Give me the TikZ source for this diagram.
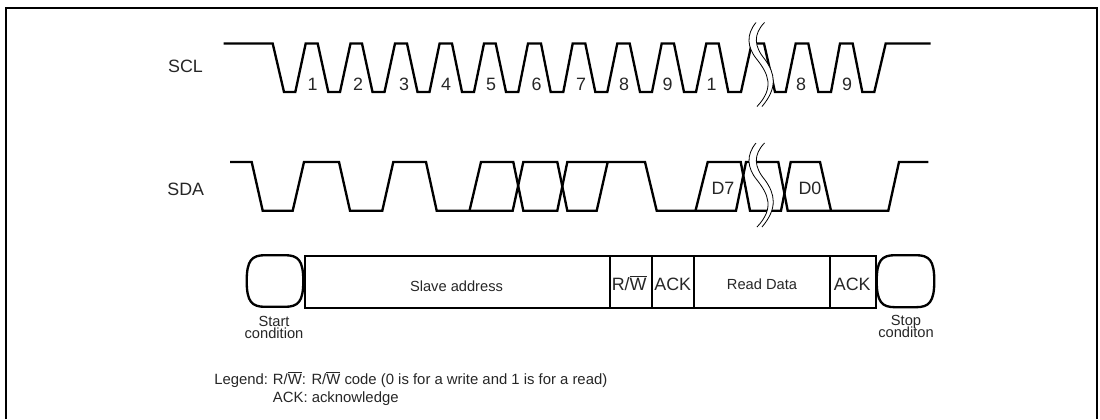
\documentclass[tikz,border=0pt]{standalone}
\usepackage{fontspec}
\setmainfont{Liberation Sans}
\newcommand{\wbar}{$\overline{\mbox{W}}$}
\tikzset{
  wave/.style={line width=1.75pt,line join=miter,black},
  cell/.style={line width=1.75pt,black},
  framed/.style={line width=1.7pt,black},
  brk/.style={line width=0.6pt,black},
  lab/.style={inner sep=0pt,anchor=base,text=black!85,font=\fontsize{13.4pt}{15pt}\selectfont},
  sm/.style={inner sep=0pt,anchor=base,text=black!85,font=\fontsize{11pt}{12pt}\selectfont},
  leg/.style={inner sep=0pt,anchor=base west,text=black!85,font=\fontsize{11.15pt}{12pt}\selectfont},
}
\begin{document}
\begin{tikzpicture}[x=0.75pt,y=-0.75pt]
\useasboundingbox (0,0) rectangle (1100,419);
% frame
\draw[framed] (6.2,419) -- (6.2,7.8) -- (1097,7.8) -- (1097,419);
% SCL
\draw[wave] (223.5,43.5) -- (272.7,43.5) -- (284,92) -- (295.3,92)
 -- (305.7,43.5) -- (317.7,43.5) -- (328.3,92) -- (340,92)
 -- (350.5,43.5) -- (362,43.5) -- (372.5,92) -- (384.5,92)
 -- (395,43.5) -- (407,43.5) -- (417.5,92) -- (429.5,92)
 -- (439.6,43.5) -- (452,43.5) -- (462,92) -- (474,92)
 -- (484,43.5) -- (495.7,43.5) -- (506,92) -- (518.3,92)
 -- (528,43.5) -- (541,43.5) -- (550.7,92) -- (563.3,92)
 -- (572.7,43.5) -- (585.3,43.5) -- (595.3,92) -- (607.3,92)
 -- (617.3,43.5) -- (629.7,43.5) -- (640,92) -- (652,92)
 -- (661.7,43.5) -- (674,43.5) -- (684,92) -- (696,92)
 -- (706.3,43.5) -- (718.7,43.5) -- (728.3,92) -- (741,92)
 -- (751.7,43.5) -- (764,43.5) -- (775,92) -- (785.7,92)
 -- (795.7,43.5) -- (808.3,43.5) -- (818.3,92) -- (831,92)
 -- (840,43.5) -- (852.7,43.5) -- (862.3,92) -- (874.3,92)
 -- (885.7,43.5) -- (930.7,43.5);
% SDA
\draw[wave] (230,162) -- (251.7,162) -- (262.7,210.7) -- (292.7,210.7)
 -- (304,162) -- (339,162) -- (350,210.7) -- (382.3,210.7)
 -- (393.3,162) -- (426,162) -- (436.7,210.7) -- (512.7,210.7)
 -- (523.3,162) -- (557.3,162) -- (567.3,210.7) -- (596.7,210.7)
 -- (607.7,162);
\draw[wave] (469.5,210.7) -- (481,162) -- (513.3,162) -- (523.3,210.7)
 -- (557.3,210.7) -- (567.3,162) -- (645,162) -- (656.7,210.7) -- (693,210.7);
\draw[wave] (695.5,210.7) -- (707.7,162) -- (740.7,162) -- (750,210.7)
 -- (781,210.7) -- (790.7,162) -- (820,162) -- (831,210.7) -- (888.3,210.7)
 -- (899,162) -- (928.3,162);
\draw[wave] (693,210.7) -- (736,210.7) -- (746,162) -- (778.3,162)
 -- (787.7,210.7) -- (831,210.7);
% breaks
\foreach \yy in {0,-120.5}{
 \begin{scope}[yshift=\yy*0.75pt*-1]
  \fill[white] (756,143) .. controls (746,155) and (747,168) .. (757,180)
    .. controls (768,194) and (775,208) .. (757,227)
    -- (762,227) .. controls (778,208) and (775,194) .. (765,180)
    .. controls (754,167) and (753,155) .. (764.5,143) -- cycle;
  \draw[brk] (756,143) .. controls (746,155) and (747,168) .. (757,180)
    .. controls (768,194) and (775,208) .. (757,227);
  \draw[brk] (764.5,143) .. controls (753,155) and (754,167) .. (765,180)
    .. controls (775,194) and (778,208) .. (762,227);
 \end{scope}
}
% labels
\node[lab] (scl) at (185.5,72.7) {SCL};
\node[lab] (sda) at (185.7,195) {SDA};
\node[lab] (c1) at (312.7,90.7) {1};
\node[lab] (c2) at (358,90.7) {2};
\node[lab] (c3) at (404,90.7) {3};
\node[lab] (c4) at (446,90.7) {4};
\node[lab] (c5) at (491,90.7) {5};
\node[lab] (c6) at (536.7,90.7) {6};
\node[lab] (c7) at (581,90.7) {7};
\node[lab] (c8) at (624,90.7) {8};
\node[lab] (c9) at (667.7,90.7) {9};
\node[lab] (c10) at (711.7,90.7) {1};
\node[lab] (c11) at (801,90.7) {8};
\node[lab] (c12) at (847,90.7) {9};
\node[lab] (d7) at (723,194.5) {D7};
\node[lab] (d0) at (810,194.5) {D0};
% frame row
\draw[cell] (246.7,281) .. controls (246.7,260) and (252,255.2) .. (265,255.2)
 -- (285,255.2) .. controls (298,255.2) and (303.3,260) .. (303.3,281)
 .. controls (303.3,302) and (298,306.8) .. (285,306.8) -- (265,306.8)
 .. controls (252,306.8) and (246.7,302) .. (246.7,281) -- cycle;
\draw[cell] (876.7,281) .. controls (876.7,260) and (882,255.2) .. (895,255.2)
 -- (916,255.2) .. controls (929,255.2) and (934.3,260) .. (934.3,281)
 .. controls (934.3,302) and (929,307.2) .. (916,307.2) -- (895,307.2)
 .. controls (882,307.2) and (876.7,302) .. (876.7,281) -- cycle;
\draw[cell] (305.3,256.3) rectangle (876,308.3);
\draw[cell] (610,256.3) -- (610,308.3);
\draw[cell] (651.7,256.3) -- (651.7,308.3);
\draw[cell] (694,256.3) -- (694,308.3);
\draw[cell] (830,256.3) -- (830,308.3);
\node[sm] (slave) at (456.5,291) {Slave address};
\node[sm] (read) at (762,289) {Read Data};
\node[lab] (rw) at (629.2,290) {R/\wbar};
\node[lab] (ack1) at (672.7,290) {ACK};
\node[lab] (ack2) at (852.2,290) {ACK};
\node[sm] (start1) at (274,326) {Start};
\node[sm] (start2) at (274,338.7) {condition};
\node[sm] (stop1) at (906,325) {Stop};
\node[sm] (stop2) at (906,337.5) {conditon};
% legend
\node[leg] (legend) at (214,384) {Legend:};
\node[leg] (legrw) at (272.7,384) {R/\wbar: R/\wbar{} code (0 is for a write and 1 is for a read)};
\node[leg] (legack) at (272.7,402.3) {ACK: acknowledge};
\end{tikzpicture}
\end{document}
